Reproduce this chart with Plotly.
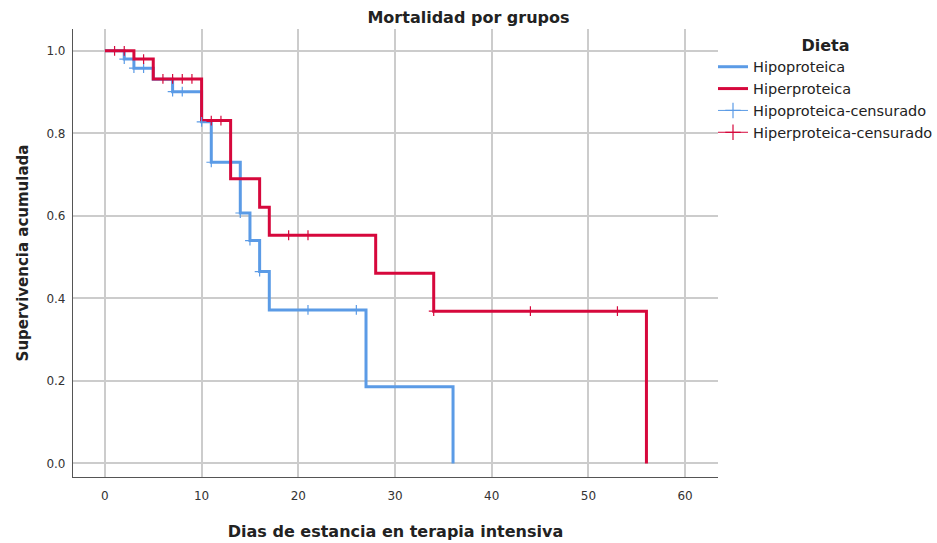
import numpy as np
import plotly.graph_objects as go

# Kaplan-Meier survival steps per diet group (time in days, cumulative survival)
hipo_time = [0, 2, 3, 5, 7, 10, 11, 14, 15, 16, 17, 27, 36]
hipo_surv = [1.0, 0.980, 0.958, 0.931, 0.901, 0.828, 0.730, 0.607, 0.540, 0.465, 0.372, 0.186, 0.0]
hipo_censored = [2, 3, 4, 7, 8, 10, 11, 14, 15, 16, 21, 26]

hiper_time = [0, 3, 5, 10, 13, 16, 17, 28, 34, 56]
hiper_surv = [1.0, 0.980, 0.932, 0.831, 0.690, 0.621, 0.553, 0.461, 0.369, 0.0]
hiper_censored = [1, 2, 4, 6, 7, 8, 9, 11, 12, 19, 21, 34, 44, 53]

x_ticks = [0, 10, 20, 30, 40, 50, 60]
y_ticks = [0.0, 0.2, 0.4, 0.6, 0.8, 1.0]

BLUE = "#5b9be6"
RED = "#d6083c"
FONT = "DejaVu Sans"
INK = "#222222"


def surv_at(times, surv, t):
    """Survival value of the step function at time t (right-continuous)."""
    idx = np.searchsorted(np.asarray(times), t, side="right") - 1
    return surv[idx]


fig = go.Figure()

# survival step curves
fig.add_trace(go.Scatter(
    x=hipo_time, y=hipo_surv, mode="lines", line_shape="hv",
    line=dict(color=BLUE, width=3), name="Hipoproteica"))
fig.add_trace(go.Scatter(
    x=hiper_time, y=hiper_surv, mode="lines", line_shape="hv",
    line=dict(color=RED, width=3), name="Hiperproteica"))

# censored observations
fig.add_trace(go.Scatter(
    x=hipo_censored,
    y=[surv_at(hipo_time, hipo_surv, t) for t in hipo_censored],
    mode="markers", showlegend=False, hoverinfo="x+y",
    marker=dict(symbol="cross-thin", size=7, color=BLUE,
                line=dict(width=1.2, color=BLUE))))
fig.add_trace(go.Scatter(
    x=hiper_censored,
    y=[surv_at(hiper_time, hiper_surv, t) for t in hiper_censored],
    mode="markers", showlegend=False, hoverinfo="x+y",
    marker=dict(symbol="cross-thin", size=7, color=RED,
                line=dict(width=1.2, color=RED))))

# legend entries for the censor marks (thin line with a cross)
fig.add_trace(go.Scatter(
    x=[None], y=[None], mode="lines+markers", name="Hipoproteica-censurado",
    line=dict(color=BLUE, width=1),
    marker=dict(symbol="cross-thin", size=11, line=dict(width=1.2, color=BLUE))))
fig.add_trace(go.Scatter(
    x=[None], y=[None], mode="lines+markers", name="Hiperproteica-censurado",
    line=dict(color=RED, width=1),
    marker=dict(symbol="cross-thin", size=11, line=dict(width=1.2, color=RED))))

axis_common = dict(
    showgrid=True, gridcolor="#cccccc", gridwidth=1.5,
    zeroline=False, showline=True, linecolor="#555555", linewidth=1.2,
    ticks="outside", tickcolor="rgba(0,0,0,0)",
    tickfont=dict(family=FONT, size=12, color="#333333"),
    automargin=False,
)

fig.update_layout(
    width=937, height=543,
    margin=dict(l=73, r=219, t=29, b=66, autoexpand=False),
    paper_bgcolor="white", plot_bgcolor="white",
    font=dict(family=FONT, color=INK),
    title=dict(text="<b>Mortalidad por grupos</b>", x=0.5, xanchor="center",
               y=1 - 17 / 543, yanchor="middle",
               font=dict(family=FONT, size=16, color=INK)),
    xaxis=dict(axis_common, range=[-3.3, 63.4], tickvals=x_ticks, ticklen=7,
               ticktext=[str(v) for v in x_ticks],
               title=dict(text="<b>Dias de estancia en terapia intensiva</b>",
                          standoff=24, font=dict(family=FONT, size=16, color=INK))),
    yaxis=dict(axis_common, range=[-0.033, 1.053], tickvals=y_ticks, ticklen=4,
               ticktext=[f"{v:.1f}" for v in y_ticks],
               title=dict(text="<b>Supervivencia acumulada</b>",
                          standoff=14, font=dict(family=FONT, size=15, color=INK))),
    legend=dict(
        xref="container", yref="container",
        x=713 / 937, xanchor="left", y=1 - 30 / 543, yanchor="top",
        title=dict(text="<b>Dieta</b>", side="top center",
                   font=dict(family=FONT, size=16, color=INK)),
        font=dict(family=FONT, size=14.5, color=INK),
        tracegroupgap=0, itemwidth=30, bgcolor="rgba(0,0,0,0)",
    ),
)

fig.write_html("out.html")
